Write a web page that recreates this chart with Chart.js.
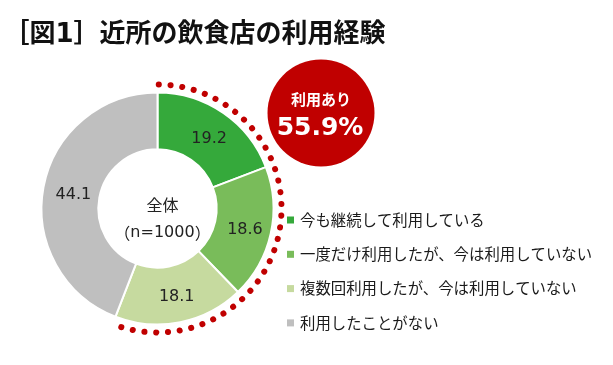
<!DOCTYPE html>
<html lang="ja">
<head>
  <meta charset="UTF-8" />
  <title>近所の飲食店の利用経験</title>
  <script src="https://cdn.jsdelivr.net/npm/chart.js"></script>
  <style>
    html, body {
      margin: 0;
      padding: 0;
      background: #fff;
    }
    .wrap {
      position: relative;
      width: 613px;
      height: 365px;
    }
  </style>
</head>
<body>
  <div class="wrap"><canvas id="chart"></canvas></div>

  <script>
    const titleText = '［図1］近所の飲食店の利用経験';
    const categories = ['今も継続して利用している', '一度だけ利用したが、今は利用していない', '複数回利用したが、今は利用していない', '利用したことがない'];
    const shares = [19.2, 18.6, 18.1, 44.1];
    const sliceColors = ['#35a93b', '#79bc5a', '#c6da9f', '#bfbfbf'];
    const centerTitle = '全体';
    const sampleSize = 1000;
    const badgeLabel = '利用あり';
    const usedCount = 3; // 最初の3区分が「利用あり」

    const FONT = '"DejaVu Sans", "Noto Sans CJK JP", sans-serif';
    const JP = '"Noto Sans CJK JP", sans-serif';
    const RED = '#c00000';

    const overlay = {
      id: 'overlay',
      afterDatasetsDraw(chart) {
        const ctx = chart.ctx;
        const arcs = chart.getDatasetMeta(0).data;
        const first = arcs[0];
        const cx = first.x, cy = first.y;

        // 値ラベル
        ctx.save();
        ctx.fillStyle = '#222';
        ctx.font = '16px ' + FONT;
        ctx.textAlign = 'center';
        ctx.textBaseline = 'middle';
        arcs.forEach((a, i) => {
          const p = a.tooltipPosition();
          ctx.fillText(shares[i].toFixed(1), p.x + 2, p.y + 2);
        });

        // 中央テキスト
        ctx.font = '16px ' + JP;
        ctx.fillText(centerTitle, cx + 5, cy - 4);
        // （n=1000）: 全角かっこ + 欧文
        const inner = 'n=' + sampleSize;
        ctx.font = '16px ' + FONT;
        const wIn = ctx.measureText(inner).width;
        ctx.font = '16px ' + JP;
        const wPar = ctx.measureText('（').width;
        const total = wIn + wPar * 2;
        let x0 = cx + 5 - total / 2;
        ctx.textAlign = 'left';
        ctx.fillText('（', x0, cy + 24);
        ctx.fillText('）', x0 + wPar + wIn, cy + 24);
        ctx.font = '16px ' + FONT;
        ctx.fillText(inner, x0 + wPar, cy + 24);
        ctx.textAlign = 'center';

        // 点線の弧（利用あり）
        const last = arcs[usedCount - 1];
        ctx.beginPath();
        ctx.strokeStyle = RED;
        ctx.lineWidth = 6;
        ctx.lineCap = 'round';
        ctx.setLineDash([0.1, 11.7]);
        ctx.arc(cx, cy, first.outerRadius + 8, first.startAngle + 0.01, last.endAngle);
        ctx.stroke();
        ctx.setLineDash([]);

        // 赤い丸
        const used = shares.slice(0, usedCount).reduce((s, v) => s + v, 0);
        ctx.beginPath();
        ctx.fillStyle = RED;
        ctx.arc(321, 113, 53.5, 0, Math.PI * 2);
        ctx.fill();
        ctx.fillStyle = '#fff';
        ctx.font = 'bold 15px ' + JP;
        ctx.fillText(badgeLabel, 321, 99);
        ctx.font = 'bold 25px ' + FONT;
        ctx.fillText(used.toFixed(1) + '%', 320, 128);

        // タイトル
        ctx.textAlign = 'left';
        ctx.fillStyle = '#111';
        ctx.font = 'bold 26px ' + FONT;
        ctx.fillText(titleText, 3.5, 35);

        // 凡例
        ctx.font = '15.4px ' + JP;
        categories.forEach((label, i) => {
          const y = 220 + i * 34.3;
          ctx.fillStyle = sliceColors[i];
          ctx.fillRect(287, y - 3.5, 7, 7);
          ctx.fillStyle = '#1a1a1a';
          ctx.fillText(label, 300, y);
        });
        ctx.restore();
      }
    };

    new Chart(document.getElementById('chart'), {
      type: 'doughnut',
      data: {
        labels: categories,
        datasets: [{
          data: shares,
          backgroundColor: sliceColors,
          borderColor: '#fff',
          borderWidth: 2
        }]
      },
      options: {
        responsive: true,
        maintainAspectRatio: false,
        animation: false,
        cutout: '51%',
        layout: {
          padding: { left: 40.5, top: 91.5, right: 338.5, bottom: 39.5 }
        },
        plugins: {
          legend: { display: false },
          title: { display: false },
          tooltip: { enabled: false }
        }
      },
      plugins: [overlay]
    });
  </script>
</body>
</html>
